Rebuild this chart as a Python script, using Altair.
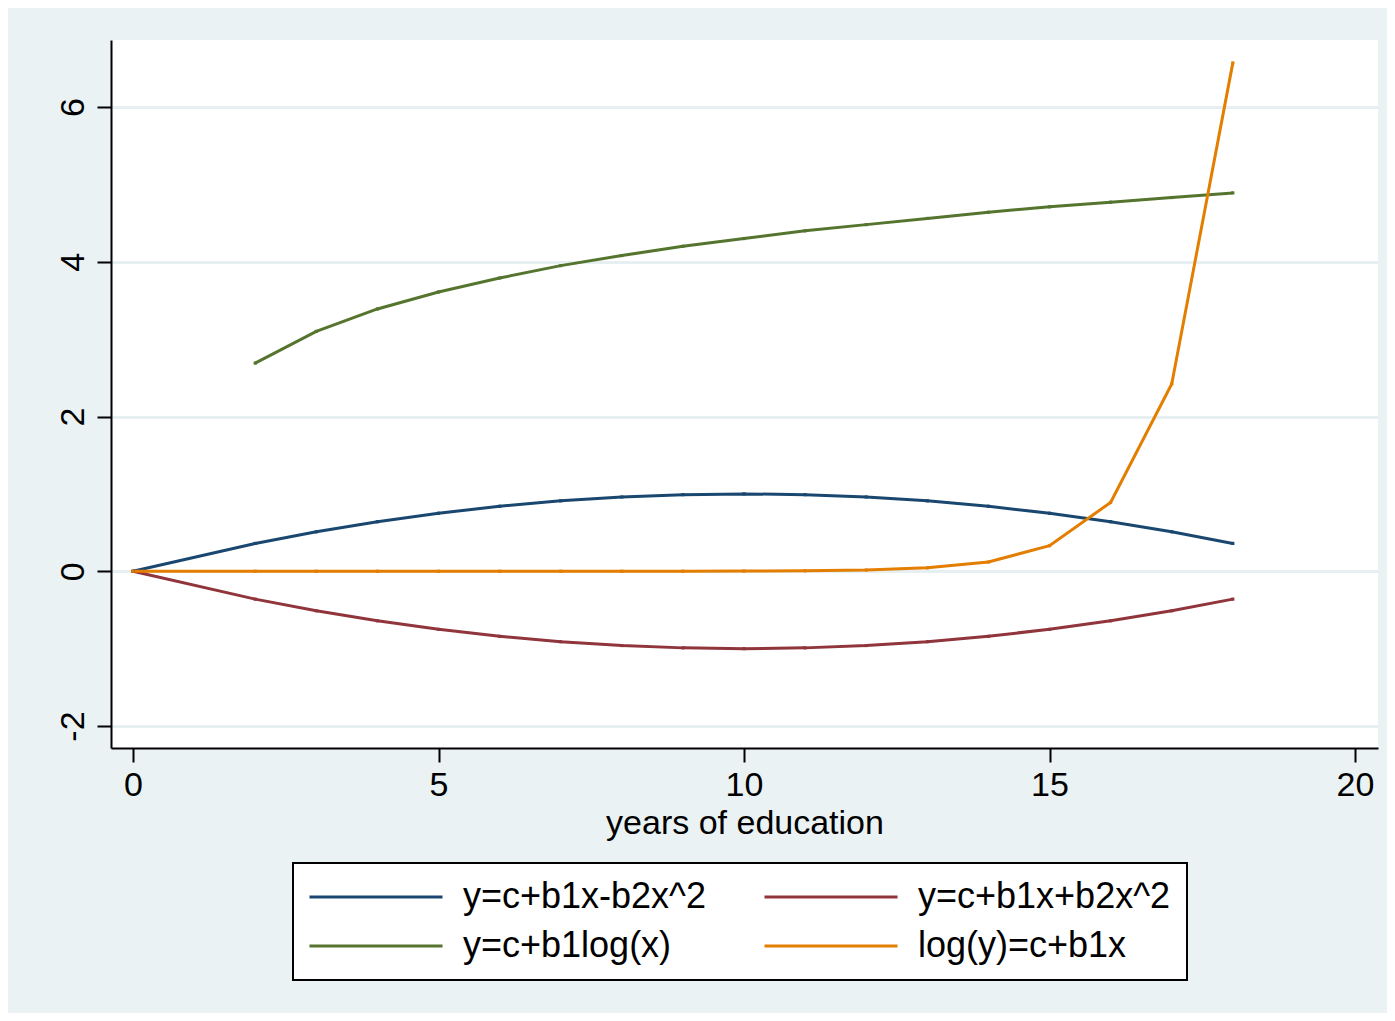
import altair as alt
import pandas as pd

# x values (years of education)
x_all = [0, 2, 3, 4, 5, 6, 7, 8, 9, 10, 11, 12, 13, 14, 15, 16, 17, 18]
x_log = [2, 3, 4, 5, 6, 7, 8, 9, 10, 11, 12, 13, 14, 15, 16, 17, 18]

quad_minus = [0, 0.36, 0.51, 0.64, 0.75, 0.84, 0.91, 0.96, 0.99, 1.00,
              0.99, 0.96, 0.91, 0.84, 0.75, 0.64, 0.51, 0.36]
quad_plus = [0, -0.36, -0.51, -0.64, -0.75, -0.84, -0.91, -0.96, -0.99, -1.00,
             -0.99, -0.96, -0.91, -0.84, -0.75, -0.64, -0.51, -0.36]
log_x = [2.69, 3.10, 3.39, 3.61, 3.79, 3.95, 4.08, 4.20, 4.30, 4.40,
         4.48, 4.56, 4.64, 4.71, 4.77, 4.83, 4.89]
log_y = [0.0000001, 0.0000007, 0.000002, 0.000005, 0.000015, 0.00004, 0.0001,
         0.0003, 0.0008, 0.0022, 0.006, 0.016, 0.044, 0.12, 0.33, 0.89, 2.42, 6.57]

series_names = ["y=c+b1x-b2x^2", "y=c+b1x+b2x^2", "y=c+b1log(x)", "log(y)=c+b1x"]
series_colors = ["#1a476f", "#90353b", "#55752f", "#e37e00"]
# legend fills column by column: col 1 = blue, green; col 2 = red, orange
legend_order = [0, 2, 1, 3]

x_ticks = [0, 5, 10, 15, 20]
y_ticks = [-2, 0, 2, 4, 6]

rows = []
for xv, yv in zip(x_all, quad_minus):
    rows.append({"x": xv, "y": yv, "series": series_names[0], "order": 0})
for xv, yv in zip(x_all, quad_plus):
    rows.append({"x": xv, "y": yv, "series": series_names[1], "order": 1})
for xv, yv in zip(x_log, log_x):
    rows.append({"x": xv, "y": yv, "series": series_names[2], "order": 2})
for xv, yv in zip(x_all, log_y):
    rows.append({"x": xv, "y": yv, "series": series_names[3], "order": 3})
df = pd.DataFrame(rows)

dom = [series_names[i] for i in legend_order]
rng = [series_colors[i] for i in legend_order]

FONT = "Liberation Sans"

color = alt.Color(
    "series:N",
    scale=alt.Scale(domain=dom, range=rng),
    legend=alt.Legend(
        title=None,
        orient="none",
        legendX=182,
        legendY=823,
        columns=2,
        symbolType="M-5,0H5",
        symbolSize=708,
        symbolStrokeWidth=3,
        symbolOffset=49,
        labelFontSize=36,
        labelFont=FONT,
        labelColor="black",
        labelOffset=69,
        labelLimit=400,
        columnPadding=51,
        rowPadding=13,
        padding=16,
        strokeColor="black",
        fillColor="white",
    ),
)

xenc = alt.X(
    "x:Q",
    scale=alt.Scale(domain=[-0.36, 20.376], nice=False, zero=False),
    axis=alt.Axis(
        title="years of education",
        values=x_ticks,
        grid=False,
        tickSize=14,
        labelPadding=6,
        titlePadding=4,
        labelExpr="'' + datum.value",
    ),
)
yenc = alt.Y(
    "y:Q",
    scale=alt.Scale(domain=[-2.284, 6.866], nice=False, zero=False),
    axis=alt.Axis(
        title=None,
        values=y_ticks,
        grid=True,
        gridColor="#e6eff1",
        gridWidth=3,
        tickSize=14,
        labelAngle=270,
        labelAlign="center",
        labelBaseline="alphabetic",
        labelPadding=14,
        labelExpr="'' + datum.value",
    ),
)

lines = alt.Chart(df).mark_line(strokeWidth=3, clip=True).encode(
    x=xenc, y=yenc, color=color, detail="series:N", order="order:Q"
)
points = alt.Chart(df).mark_point(filled=True, shape="square", size=10, opacity=1).encode(
    x="x:Q", y="y:Q",
    color=alt.Color("series:N", legend=None, scale=alt.Scale(domain=dom, range=rng)),
)

chart = alt.layer(lines, points).properties(
    width=1267,
    height=708,
    autosize=alt.AutoSizeParams(type="none"),
    padding={"left": 103, "top": 32, "right": 9, "bottom": 265},
    background="#eaf2f3",
).configure_view(
    fill="white", stroke=None
).configure_axis(
    labelFont=FONT,
    titleFont=FONT,
    labelFontSize=34,
    titleFontSize=34,
    titleFontWeight="normal",
    labelColor="black",
    titleColor="black",
    domainColor="black",
    domainWidth=2,
    tickColor="black",
    tickWidth=2,
).configure_legend(
    strokeWidth=2
)

chart.save("out.html", embed_options={"renderer": "svg", "actions": False})
